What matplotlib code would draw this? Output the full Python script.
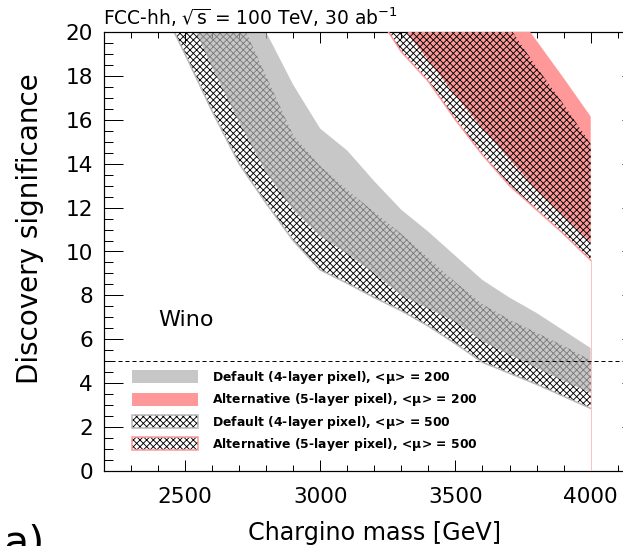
import matplotlib
matplotlib.use("Agg")
import matplotlib.pyplot as plt
from matplotlib.patches import Patch
from matplotlib.ticker import MultipleLocator

# Chargino mass grid [GeV] and discovery-significance bands
mass_default = [2400, 2500, 2600, 2700, 2800, 2900, 3000, 3100, 3200,
                3300, 3400, 3500, 3600, 3700, 3800, 3900, 4000]
default_mu200_hi = [30.0, 27.5, 25.0, 22.4, 20.0, 17.6, 15.6, 14.6, 13.2,
                    11.9, 10.9, 9.8, 8.7, 7.9, 7.2, 6.4, 5.6]
default_mu200_lo = [24.0, 21.1, 18.4, 15.9, 13.6, 11.9, 10.7, 9.9, 9.0,
                    8.0, 7.4, 6.8, 5.9, 5.3, 4.7, 4.1, 3.55]
default_mu500_hi = [29.0, 26.2, 23.4, 20.7, 18.0, 15.3, 13.9, 12.8, 11.8,
                    10.8, 9.7, 8.6, 7.6, 6.9, 6.3, 5.7, 5.05]
default_mu500_lo = [21.5, 19.0, 16.4, 14.0, 12.2, 10.5, 9.16, 8.55, 7.9,
                    7.3, 6.6, 5.8, 4.95, 4.45, 3.95, 3.4, 2.85]

mass_alt = [3200, 3300, 3400, 3500, 3600, 3700, 3800, 3900, 4000]
alt_mu200_hi = [29.7, 28.0, 26.5, 24.8, 23.0, 21.3, 19.6, 17.9, 16.15]
alt_mu200_lo = [21.9, 20.3, 18.7, 17.1, 15.6, 14.2, 12.8, 11.6, 10.4]
alt_mu500_hi = [29.0, 27.3, 25.5, 23.8, 22.0, 20.2, 18.4, 16.7, 14.9]
alt_mu500_lo = [21.0, 19.1, 17.75, 16.0, 14.4, 13.0, 11.9, 10.8, 9.6]

x_major_ticks = [2500, 3000, 3500, 4000]
y_major_ticks = [0, 2, 4, 6, 8, 10, 12, 14, 16, 18, 20]
discovery_threshold = 5
legend_labels = [
    r"Default (4-layer pixel), <$\mathbf{\mu}$> = 200",
    r"Alternative (5-layer pixel), <$\mathbf{\mu}$> = 200",
    r"Default (4-layer pixel), <$\mathbf{\mu}$> = 500",
    r"Alternative (5-layer pixel), <$\mathbf{\mu}$> = 500",
]

GRAY = "#b0b0b0"
RED = "#ff9999"
GRAY_LINE = "#bababa"
HATCH = "xxxx"

plt.rcParams["hatch.linewidth"] = 0.8
plt.rcParams["font.family"] = "DejaVu Sans"
plt.rcParams["mathtext.fontset"] = "dejavusans"

DPI = 80
W, H = 623, 546
fig = plt.figure(figsize=(W / DPI, H / DPI), dpi=DPI)
ax = fig.add_axes([103.8 / W, 75 / H, (641 - 103.8) / W, 439 / H])

# Default layout, <mu> = 500 : hatched band with light outline
ax.fill_between(mass_default, default_mu500_lo, default_mu500_hi,
                facecolor="none", edgecolor="black", hatch=HATCH,
                linewidth=0, zorder=1)
ax.plot(mass_default, default_mu500_lo, color=GRAY_LINE, lw=1.4, zorder=1.5)

# Default layout, <mu> = 200 : gray band
ax.fill_between(mass_default, default_mu200_lo, default_mu200_hi,
                facecolor=GRAY, alpha=0.7, linewidth=0, zorder=2)

# Alternative layout, <mu> = 200 : red band
ax.fill_between(mass_alt, alt_mu200_lo, alt_mu200_hi,
                facecolor=RED, linewidth=0, zorder=3)

# Alternative layout, <mu> = 500 : hatched band with red outline
ax.fill_between(mass_alt, alt_mu500_lo, alt_mu500_hi,
                facecolor="none", edgecolor="black", hatch=HATCH,
                linewidth=0, zorder=4)
ax.plot(mass_alt, alt_mu500_lo, color=RED, lw=1.4, zorder=5)
ax.plot([mass_alt[-1], mass_alt[-1]], [0, alt_mu500_lo[-1]],
        color="#ffc0c0", lw=0.9, zorder=5)

# 5 sigma discovery threshold
ax.axhline(discovery_threshold, color="black", lw=0.9, ls=(0, (4, 3)), zorder=6)

ax.set_xlim(2200, 4186)
ax.set_ylim(0, 20)
ax.set_xticks(x_major_ticks)
ax.set_yticks(y_major_ticks)
ax.xaxis.set_minor_locator(MultipleLocator(100))
ax.yaxis.set_minor_locator(MultipleLocator(0.5))
ax.tick_params(axis="both", which="both", direction="in", top=True, right=True,
               width=0.9, labelsize=19.5)
ax.tick_params(axis="x", which="major", length=10, pad=14)
ax.tick_params(axis="x", which="minor", length=5)
ax.tick_params(axis="y", which="major", length=17, pad=9.5)
ax.tick_params(axis="y", which="minor", length=8.5)
for sp in ax.spines.values():
    sp.set_linewidth(1.1)

fig.text(375 / W, (H - 540) / H, "Chargino mass [GeV]", fontsize=21.5,
         ha="center", va="baseline")
fig.text(30 / W, (H - 229) / H, "Discovery significance", fontsize=25,
         rotation=90, ha="center", va="center")
fig.text(103 / W, (H - 25) / H,
         r"FCC-hh, $\sqrt{\mathrm{s}}$ = 100 TeV, 30 ab$^{\mathrm{-1}}$",
         fontsize=16.8, ha="left", va="baseline")
ax.text((158 - 103.8) / 537.2, (471 - 326) / 439, "Wino", fontsize=20,
        transform=ax.transAxes, ha="left", va="baseline")
fig.text(4 / W, (H - 555) / H, "a)", fontsize=37, ha="left", va="baseline")

handles = [
    Patch(facecolor=GRAY, alpha=0.7, linewidth=0),
    Patch(facecolor=RED, linewidth=0),
    (Patch(facecolor="white", edgecolor="black", hatch=HATCH, linewidth=0),
     Patch(facecolor="none", edgecolor=GRAY_LINE, linewidth=1.4)),
    (Patch(facecolor="white", edgecolor="black", hatch=HATCH, linewidth=0),
     Patch(facecolor="none", edgecolor=RED, linewidth=1.4)),
]
ax.legend(handles, legend_labels, loc="upper left",
          bbox_to_anchor=((132 - 103.8) / 537.2, (471 - 369) / 439),
          frameon=False, borderpad=0, borderaxespad=0,
          prop={"weight": "bold", "size": 11.2},
          handlelength=5.3, handleheight=1.2, handletextpad=1.1,
          labelspacing=0.43)

fig.savefig("out.png", dpi=DPI)
